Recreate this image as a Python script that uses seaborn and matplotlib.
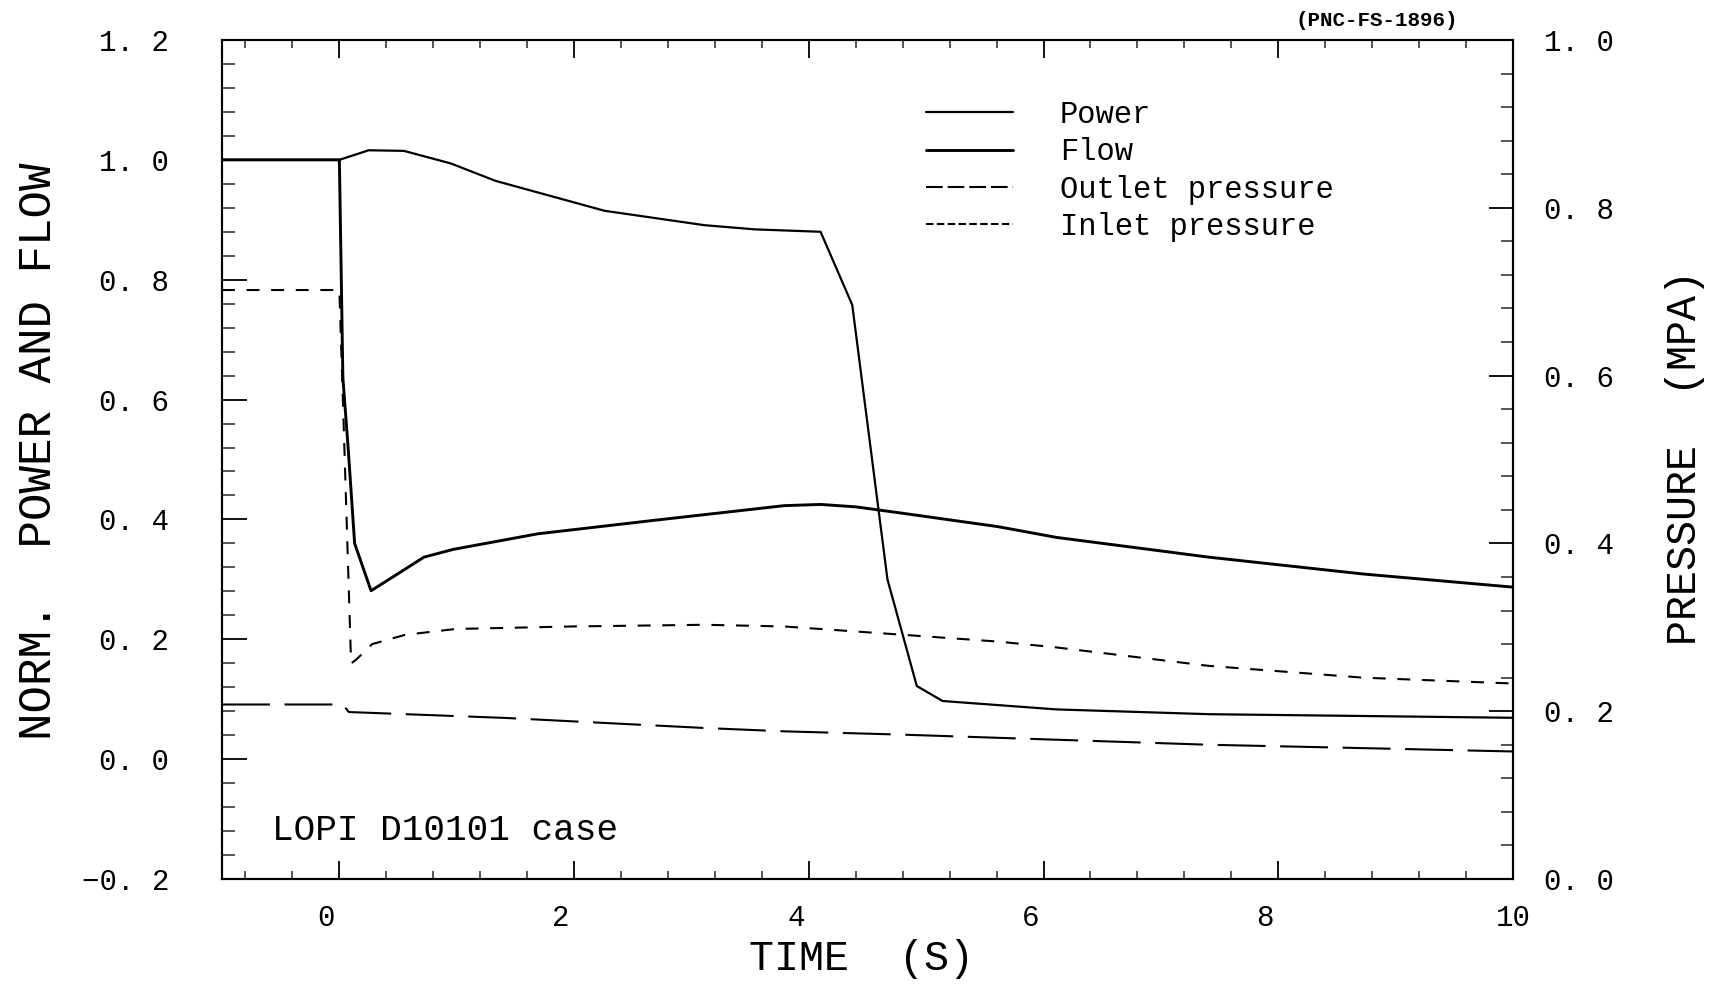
import matplotlib
matplotlib.use("Agg")
import matplotlib.pyplot as plt
import matplotlib.transforms as mtransforms
import seaborn as sns
from matplotlib.ticker import MultipleLocator, FixedLocator, FuncFormatter
from matplotlib.lines import Line2D

# ---------------- data ----------------
power_t = [-1.0, 0.0, 0.25, 0.55, 0.95, 1.33, 2.26, 3.11, 3.54, 4.10, 4.37, 4.67, 4.92, 5.14, 6.11, 7.41, 8.72, 10.0]
power_v = [1.0, 1.0, 1.016, 1.015, 0.994, 0.965, 0.915, 0.891, 0.884, 0.880, 0.758, 0.300, 0.122, 0.097, 0.083, 0.075, 0.072, 0.069]

flow_t = [-1.0, 0.0, 0.03, 0.075, 0.13, 0.27, 0.48, 0.72, 0.97, 1.69, 2.66, 3.79, 4.10, 4.40, 4.81, 5.61, 6.11, 7.41, 8.72, 10.0]
flow_v = [1.0, 1.0, 0.636, 0.519, 0.360, 0.281, 0.307, 0.337, 0.350, 0.376, 0.398, 0.423, 0.425, 0.421, 0.410, 0.388, 0.370, 0.337, 0.309, 0.287]

# pressures in MPa (right axis)
outlet_t = [-1.0, 0.03, 0.08, 1.41, 3.11, 3.79, 4.81, 6.11, 7.41, 8.72, 10.0]
outlet_p = [0.208, 0.208, 0.199, 0.192, 0.180, 0.176, 0.172, 0.166, 0.160, 0.156, 0.152]

inlet_t = [-1.0, 0.0, 0.03, 0.10, 0.14, 0.28, 0.56, 0.99, 1.98, 3.11, 3.79, 4.81, 5.61, 6.11, 7.41, 8.72, 10.0]
inlet_p = [0.702, 0.702, 0.571, 0.257, 0.261, 0.280, 0.291, 0.298, 0.301, 0.303, 0.301, 0.291, 0.283, 0.276, 0.254, 0.240, 0.233]

legend_labels = ["Power", "Flow", "Outlet pressure", "Inlet pressure"]
left_ticks = [-0.2, 0.0, 0.2, 0.4, 0.6, 0.8, 1.0, 1.2]
right_ticks = [0.0, 0.2, 0.4, 0.6, 0.8, 1.0]
x_ticks = [0, 2, 4, 6, 8, 10]

# ---------------- style ----------------
sns.set_theme(style="white")
FONT = ["Liberation Mono", "DejaVu Sans Mono"]
plt.rcParams["font.family"] = FONT
plt.rcParams["axes.unicode_minus"] = True

W, H = 1709, 993
L, R, T, B = 222, 1513, 40, 879
fig = plt.figure(figsize=(W / 100, H / 100), dpi=100)
ax = fig.add_axes([L / W, 1 - B / H, (R - L) / W, (B - T) / H])
ax2 = ax.twinx()

K = "black"
LW_P, LW_F, LW_D = 1.6, 2.1, 1.5

sns.lineplot(x=power_t, y=power_v, ax=ax, color=K, linewidth=LW_P, sort=False)
sns.lineplot(x=flow_t, y=flow_v, ax=ax, color=K, linewidth=LW_F, sort=False)
sns.lineplot(x=outlet_t, y=outlet_p, ax=ax2, color=K, linewidth=LW_D, sort=False,
             linestyle=(0, (23, 7)))
sns.lineplot(x=inlet_t, y=inlet_p, ax=ax2, color=K, linewidth=LW_D, sort=False,
             linestyle=(0, (6.2, 5.6)))

ax.set_xlim(-1, 10)
ax.set_ylim(-0.2, 1.2)
ax2.set_ylim(0.0, 1.0)

def fmt_dec(v, pos=None):
    s = f"{abs(v):.1f}".replace(".", ". ")
    return ("\u2212" + s) if v < -1e-9 else s

ax.yaxis.set_major_locator(FixedLocator(left_ticks))
ax.yaxis.set_minor_locator(MultipleLocator(0.04))
ax.yaxis.set_major_formatter(FuncFormatter(fmt_dec))
ax2.yaxis.set_major_locator(FixedLocator(right_ticks))
ax2.yaxis.set_minor_locator(MultipleLocator(0.04))
ax2.yaxis.set_major_formatter(FuncFormatter(fmt_dec))
ax.xaxis.set_major_locator(FixedLocator(x_ticks))
ax.xaxis.set_minor_locator(MultipleLocator(0.4))
ax.xaxis.set_major_formatter(FuncFormatter(lambda v, p: f"{int(round(v))}"))

for a in (ax, ax2):
    for s in a.spines.values():
        s.set_color(K)
        s.set_linewidth(1.5)
    a.grid(False)

ax.tick_params(axis="y", which="major", direction="in", length=18, width=1.3,
               left=True, right=False, labelsize=21, pad=38, colors=K)
ax.tick_params(axis="y", which="minor", direction="in", length=9, width=1.1,
               left=True, right=False)
ax.tick_params(axis="x", which="major", direction="in", length=13, width=1.3,
               bottom=True, top=True, labelsize=21, pad=18, colors=K)
ax.tick_params(axis="x", which="minor", direction="in", length=6, width=1.1,
               bottom=True, top=True)
ax2.tick_params(axis="y", which="major", direction="in", length=17, width=1.3,
                right=True, left=False, labelsize=21, pad=22, colors=K)
ax2.tick_params(axis="y", which="minor", direction="in", length=9, width=1.1,
                right=True, left=False)

# the scanned original prints the x labels slightly left of their ticks
shift = mtransforms.ScaledTranslation(-0.13, 0, fig.dpi_scale_trans)
for lab in ax.get_xticklabels()[:-1]:
    lab.set_transform(lab.get_transform() + shift)

ax.set_xlabel("TIME  (S)", fontsize=30, color=K, va="center")
ax.xaxis.set_label_coords(0.495, -0.095)
ax.set_ylabel("NORM.  POWER AND FLOW", fontsize=33, color=K, va="center")
ax.yaxis.set_label_coords(-0.142, 0.51)
ax2.set_ylabel("PRESSURE  (MPA)", fontsize=30, color=K, va="center")
ax2.yaxis.set_label_coords(1.133, 0.502)

ax.text(0.039, 0.058, "LOPI D10101 case", transform=ax.transAxes, fontsize=26,
        color=K, ha="left", va="center")
fig.text(1458 / W, 1 - 20 / H, "(PNC-FS-1896)", fontsize=15, color=K,
         ha="right", va="center", fontweight="bold")

handles = [
    Line2D([], [], color=K, linewidth=LW_P),
    Line2D([], [], color=K, linewidth=LW_F),
    Line2D([], [], color=K, linewidth=LW_D, linestyle=(0, (8, 2.4))),
    Line2D([], [], color=K, linewidth=LW_D, linestyle=(0, (3.6, 1.6))),
]
leg = ax.legend(handles, legend_labels, loc="upper left",
                bbox_to_anchor=((926 - L) / (R - L), (B - 100) / (B - T)),
                frameon=False, fontsize=22, handlelength=2.85, handletextpad=1.53,
                labelspacing=0.24, borderpad=0, borderaxespad=0)
for t in leg.get_texts():
    t.set_color(K)

fig.savefig("out.png", dpi=100, facecolor="white")
